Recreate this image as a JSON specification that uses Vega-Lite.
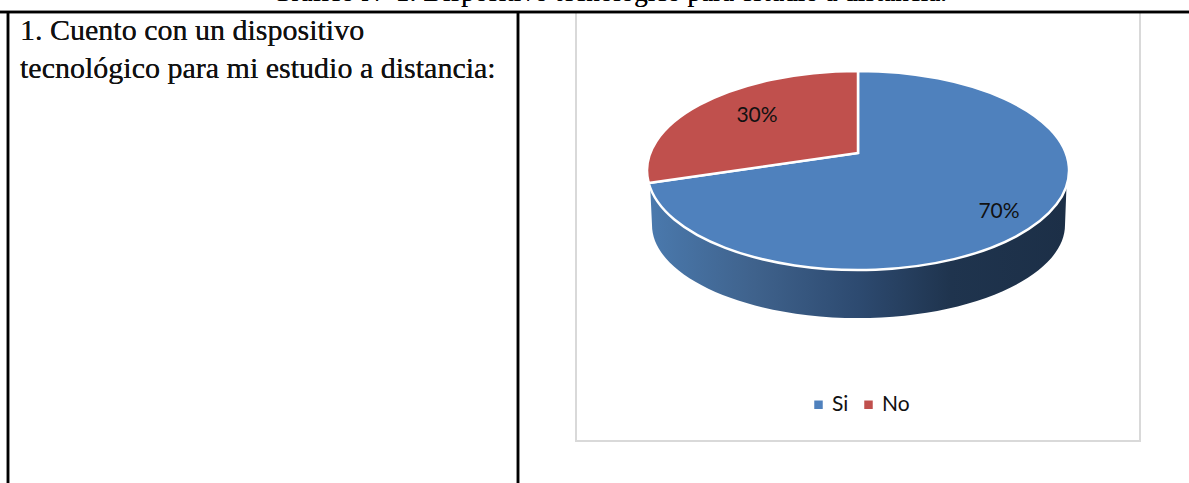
{
  "$schema": "https://vega.github.io/schema/vega-lite/v6.json",
  "width": 1189,
  "height": 483,
  "padding": 0,
  "autosize": "none",
  "background": "white",
  "view": {"stroke": null},
  "datasets": {
    "answers": [
      {"slice": "Si", "share": 70, "label": "70%"},
      {"slice": "No", "share": 30, "label": "30%"}
    ]
  },
  "data": {"name": "answers"},
  "resolve": {"scale": {"color": "independent"}, "legend": {"color": "independent"}},
  "layer": [
    {
      "mark": {"type": "rect", "fill": "white", "stroke": "#d9d9d9", "strokeWidth": 2},
      "encoding": {
        "x": {"datum": 576, "type": "quantitative", "scale": {"domain": [0, 1189], "nice": false}, "axis": null},
        "x2": {"datum": 1140},
        "y": {"datum": 12, "type": "quantitative", "scale": {"domain": [483, 0], "nice": false}, "axis": null},
        "y2": {"datum": 441}
      }
    },
    {
      "mark": {"type": "rule", "stroke": "black", "strokeWidth": 2.5},
      "encoding": {"x": {"datum": 0}, "x2": {"datum": 1189}, "y": {"datum": 12}}
    },
    {
      "mark": {"type": "rule", "stroke": "black", "strokeWidth": 2.5},
      "encoding": {"x": {"datum": 8}, "y": {"datum": 12}, "y2": {"datum": 483}}
    },
    {
      "mark": {"type": "rule", "stroke": "black", "strokeWidth": 2.5},
      "encoding": {"x": {"datum": 518}, "y": {"datum": 12}, "y2": {"datum": 483}}
    },
    {
      "mark": {"type": "text", "text": "Gráfico Nº 1: Dispositivo tecnológico para estudio a distancia.", "font": "Liberation Serif", "fontSize": 27, "color": "black", "align": "right", "baseline": "alphabetic"},
      "encoding": {"x": {"datum": 947}, "y": {"datum": 0.5}}
    },
    {
      "mark": {"type": "text", "text": "1. Cuento con un dispositivo", "font": "Liberation Serif", "fontSize": 30, "color": "#111111", "align": "left", "baseline": "alphabetic"},
      "encoding": {"x": {"datum": 20}, "y": {"datum": 40}}
    },
    {
      "mark": {"type": "text", "text": "tecnológico para mi estudio a distancia:", "font": "Liberation Serif", "fontSize": 30, "color": "#111111", "align": "left", "baseline": "alphabetic"},
      "encoding": {"x": {"datum": 20}, "y": {"datum": 78}}
    },
    {
      "transform": [{"filter": "datum.slice === 'Si'"}],
      "mark": {
        "type": "point",
        "filled": true,
        "opacity": 1,
        "size": 4,
        "shape": "M-208,30 L-206,72 C-206,123 -113,165 0,165 C113,165 207,123 207,72 L209,20 Z",
        "fill": {
          "gradient": "linear", "x1": 0, "x2": 1, "y1": 0, "y2": 0,
          "stops": [
            {"offset": 0, "color": "#4a79ad"},
            {"offset": 0.25, "color": "#3f628c"},
            {"offset": 0.5, "color": "#2d4a70"},
            {"offset": 0.72, "color": "#1f344e"},
            {"offset": 1, "color": "#1c2f47"}
          ]
        }
      },
      "encoding": {"x": {"datum": 858}, "y": {"datum": 153}}
    },
    {
      "mark": {"type": "point", "filled": true, "opacity": 1, "size": 4, "stroke": "white", "strokeWidth": 2.5},
      "encoding": {
        "x": {"datum": 858},
        "y": {"datum": 153},
        "color": {
          "field": "slice",
          "type": "nominal",
          "scale": {"domain": ["Si", "No"], "range": ["#4f81bd", "#c0504d"]},
          "legend": null
        },
        "shape": {
          "field": "slice",
          "type": "nominal",
          "legend": null,
          "scale": {
            "domain": ["Si", "No"],
            "range": [
              "M0,0 L0,-82 A211,99.5 0 1 1 -209.3,30 Z",
              "M0,0 L-209.3,30 A211,99.5 0 0 1 0,-82 Z"
            ]
          }
        }
      }
    },
    {
      "mark": {"type": "square", "size": 0, "opacity": 1},
      "encoding": {
        "x": {"datum": 858},
        "y": {"datum": 153},
        "color": {
          "field": "slice",
          "type": "nominal",
          "scale": {"domain": ["Si", "No"], "range": ["#4f81bd", "#c0504d"]},
          "legend": {
            "orient": "none",
            "legendX": 808,
            "legendY": 394,
            "direction": "horizontal",
            "title": null,
            "symbolType": "square",
            "symbolSize": 72,
            "symbolStrokeWidth": 0,
            "labelFont": "Lato",
            "labelFontSize": 21,
            "labelColor": "#111111",
            "columnPadding": 9,
            "labelOffset": 3
          }
        }
      }
    },
    {
      "transform": [{"filter": "datum.slice === 'Si'"}],
      "mark": {"type": "text", "font": "Lato", "fontSize": 21, "color": "#111111", "align": "center", "baseline": "middle"},
      "encoding": {"x": {"datum": 999}, "y": {"datum": 211.5}, "text": {"field": "label"}}
    },
    {
      "transform": [{"filter": "datum.slice === 'No'"}],
      "mark": {"type": "text", "font": "Lato", "fontSize": 21, "color": "#111111", "align": "center", "baseline": "middle"},
      "encoding": {"x": {"datum": 757}, "y": {"datum": 115.5}, "text": {"field": "label"}}
    }
  ]
}
